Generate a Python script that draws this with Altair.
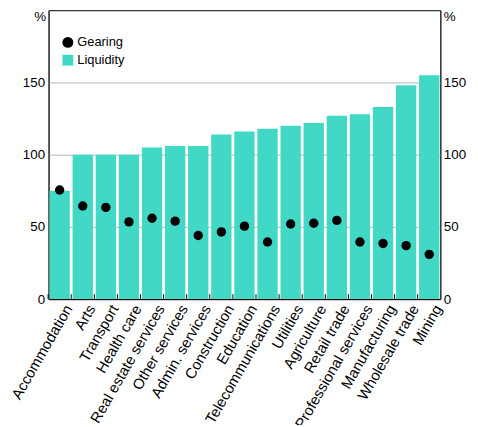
import altair as alt
import pandas as pd

industries = ["Accommodation", "Arts", "Transport", "Health care", "Real estate services",
              "Other services", "Admin. services", "Construction", "Education",
              "Telecommunications", "Utilities", "Agriculture", "Retail trade",
              "Professional services", "Manufacturing", "Wholesale trade", "Mining"]
liquidity = [75, 100, 100, 100, 105, 106, 106, 114, 116, 118, 120, 122, 127, 128, 133, 148, 155]
gearing = [75.5, 64.5, 63.5, 53.5, 56, 54, 44, 46.5, 50.5, 39.5, 52, 52.5, 54.5, 39.5, 38.5, 37, 31]
y_ticks = [0, 50, 100, 150]

df = pd.DataFrame({"industry": industries, "Liquidity": liquidity, "Gearing": gearing})

TEAL = "#41D9C5"
FONT = "Liberation Sans"

xenc = alt.X("industry:N", sort=industries,
             scale=alt.Scale(paddingInner=0.12, paddingOuter=0.04),
             axis=alt.Axis(title=None, labelAngle=-60, labelAlign="right", labelBaseline="top",
                           ticks=False, domainColor="black", labelOffset=3,
                           labelFontSize=15, labelColor="black", labelPadding=3,
                           labelFont=FONT))

yscale = alt.Scale(domain=[0, 200], nice=False)

color = alt.Color("series:N",
                  scale=alt.Scale(domain=["Gearing", "Liquidity"], range=["black", TEAL]),
                  legend=alt.Legend(title=None, orient="none", legendX=13, legendY=26,
                                    labelFontSize=13, labelFont=FONT, labelColor="black",
                                    symbolSize=120, rowPadding=4, padding=0, labelOffset=3,
                                    symbolStrokeWidth=0))
shape = alt.Shape("series:N",
                  scale=alt.Scale(domain=["Gearing", "Liquidity"], range=["circle", "square"]),
                  legend=None)

left_axis = alt.Axis(title="%", titleAngle=0, titleAlign="right", titleBaseline="middle",
                     titleX=-3, titleY=6, titleFontSize=13.5, titleFontWeight="normal",
                     titleFont=FONT, titleColor="black",
                     values=y_ticks, ticks=False, labelFontSize=13.5, labelFont=FONT,
                     labelColor="black", labelPadding=4, domainColor="#333333",
                     grid=True, gridColor="#b5b5b5", gridWidth=1)
right_axis = alt.Axis(orient="right", title="%", titleAngle=0, titleAlign="left",
                      titleBaseline="middle", titleX=3, titleY=6, titleFontSize=13.5,
                      titleFontWeight="normal", titleFont=FONT, titleColor="black",
                      values=y_ticks, ticks=False, labelFontSize=13.5, labelFont=FONT,
                      labelColor="black", labelPadding=3, domainColor="#333333", grid=False)

bars = alt.Chart(df).transform_calculate(series="'Liquidity'").mark_bar().encode(
    x=xenc,
    y=alt.Y("Liquidity:Q", scale=yscale, axis=left_axis),
    color=color,
)

points = alt.Chart(df).transform_calculate(series="'Gearing'").mark_point(
    filled=True, size=90, opacity=1).encode(
    x=xenc,
    y=alt.Y("Gearing:Q", scale=yscale, axis=right_axis),
    color=color,
    shape=shape,
)

ticks = alt.Chart(df).mark_rule(color="black", strokeWidth=1, xOffset=-1.4).encode(
    x=alt.X("industry:N", sort=industries, bandPosition=0),
    y=alt.value(287),
    y2=alt.value(292),
)

chart = alt.layer(bars, points, ticks).resolve_axis(y="independent").properties(
    width=396, height=292,
    title=alt.TitleParams("By industry, median, FY2016/17", fontSize=13.5, fontWeight="normal",
                          font=FONT, color="black", anchor="middle"),
    padding={"left": 41, "top": 0, "right": 30, "bottom": 125},
    autosize=alt.AutoSizeParams(type="none"),
).configure_view(stroke="black", strokeWidth=1)

chart.save("out.html", embed_options={"renderer": "svg", "actions": False})
